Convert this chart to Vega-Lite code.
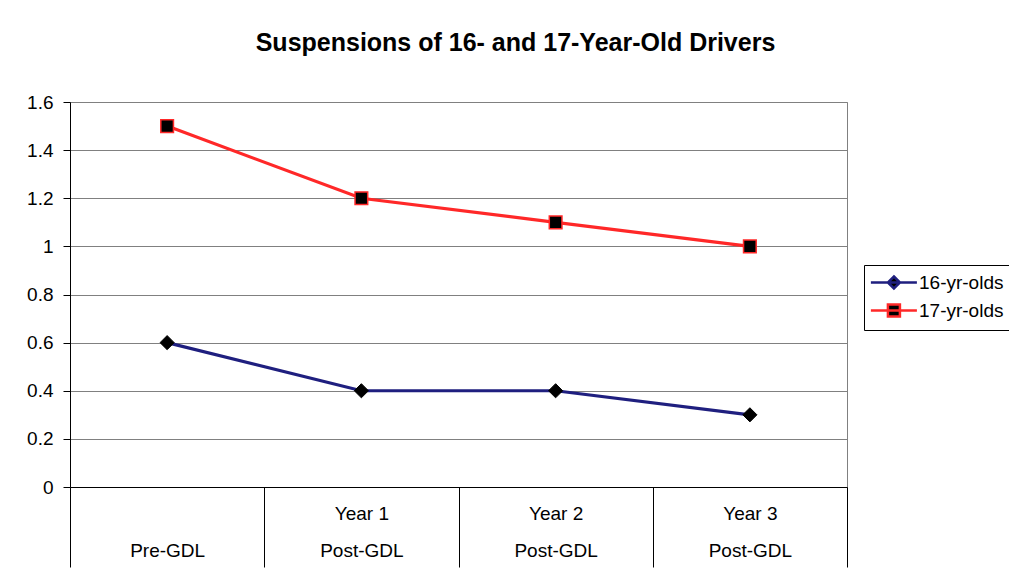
{
  "$schema": "https://vega.github.io/schema/vega-lite/v6.json",
  "width": 777,
  "height": 385,
  "autosize": "none",
  "padding": {"left": 70, "top": 102, "right": 162, "bottom": 92},
  "background": "white",
  "config": {
    "font": "Liberation Sans",
    "view": {"stroke": "#808080", "strokeWidth": 1}
  },
  "title": {
    "text": "Suspensions of 16- and 17-Year-Old Drivers",
    "font": "Liberation Sans",
    "fontSize": 25,
    "fontWeight": "bold",
    "color": "black",
    "anchor": "middle",
    "frame": "group",
    "baseline": "alphabetic",
    "dx": 57,
    "offset": 17
  },
  "data": {
    "values": [
      {"period": "|Pre-GDL", "series": "16-yr-olds", "value": 0.6},
      {"period": "Year 1|Post-GDL", "series": "16-yr-olds", "value": 0.4},
      {"period": "Year 2|Post-GDL", "series": "16-yr-olds", "value": 0.4},
      {"period": "Year 3|Post-GDL", "series": "16-yr-olds", "value": 0.3},
      {"period": "|Pre-GDL", "series": "17-yr-olds", "value": 1.5},
      {"period": "Year 1|Post-GDL", "series": "17-yr-olds", "value": 1.2},
      {"period": "Year 2|Post-GDL", "series": "17-yr-olds", "value": 1.1},
      {"period": "Year 3|Post-GDL", "series": "17-yr-olds", "value": 1.0}
    ]
  },
  "encoding": {
    "x": {
      "field": "period",
      "type": "nominal",
      "sort": null,
      "scale": {"paddingInner": 0, "paddingOuter": 0},
      "axis": {
        "title": null,
        "labelAngle": 0,
        "labelExpr": "split(datum.label, '|')",
        "labelFont": "Liberation Sans",
        "labelFontSize": 19,
        "labelColor": "black",
        "labelLineHeight": 37,
        "labelPadding": -63,
        "tickBand": "extent",
        "tickSize": 80,
        "tickColor": "black",
        "domainColor": "black",
        "grid": false
      }
    },
    "y": {
      "field": "value",
      "type": "quantitative",
      "scale": {"domain": [0, 1.6], "nice": false},
      "axis": {
        "title": null,
        "values": [0, 0.2, 0.4, 0.6, 0.8, 1, 1.2, 1.4, 1.6],
        "format": ".1~f",
        "labelFont": "Liberation Sans",
        "labelFontSize": 19,
        "labelColor": "black",
        "labelPadding": 10,
        "tickSize": 7,
        "tickColor": "black",
        "domainColor": "black",
        "grid": true,
        "gridColor": "#808080",
        "gridOpacity": 1
      }
    }
  },
  "layer": [
    {
      "mark": {"type": "line", "strokeWidth": 3.2},
      "encoding": {
        "color": {
          "field": "series",
          "type": "nominal",
          "scale": {"domain": ["16-yr-olds", "17-yr-olds"], "range": ["#1f1f7f", "#ff2828"]},
          "legend": {
            "title": null,
            "orient": "none",
            "legendX": 794,
            "legendY": 163,
            "padding": 8,
            "strokeColor": "black",
            "fillColor": "white",
            "labelFont": "Liberation Sans",
            "labelFontSize": 19,
            "labelColor": "black",
            "labelOffset": 28,
            "rowPadding": 5,
            "symbolSize": 144,
            "symbolStrokeWidth": 2.5,
            "encode": {
              "symbols": {
                "update": {
                  "shape": {"signal": "datum.value === '16-yr-olds' ? 'M-1.77,0H5.9M2.07,-1L3.07,0L2.07,1L1.07,0Z' : 'M-1.77,0H5.9M1.07,-1H3.07V1H1.07Z'"},
                  "fill": {"value": "black"}
                }
              }
            }
          }
        }
      }
    },
    {
      "transform": [{"filter": "datum.series === '16-yr-olds'"}],
      "mark": {"type": "point", "shape": "diamond", "size": 200, "filled": true, "fill": "black", "stroke": "black", "strokeWidth": 1, "opacity": 1}
    },
    {
      "transform": [{"filter": "datum.series === '17-yr-olds'"}],
      "mark": {"type": "point", "shape": "square", "size": 160, "filled": true, "fill": "black", "stroke": "#ff2828", "strokeWidth": 1.5, "opacity": 1}
    }
  ]
}
